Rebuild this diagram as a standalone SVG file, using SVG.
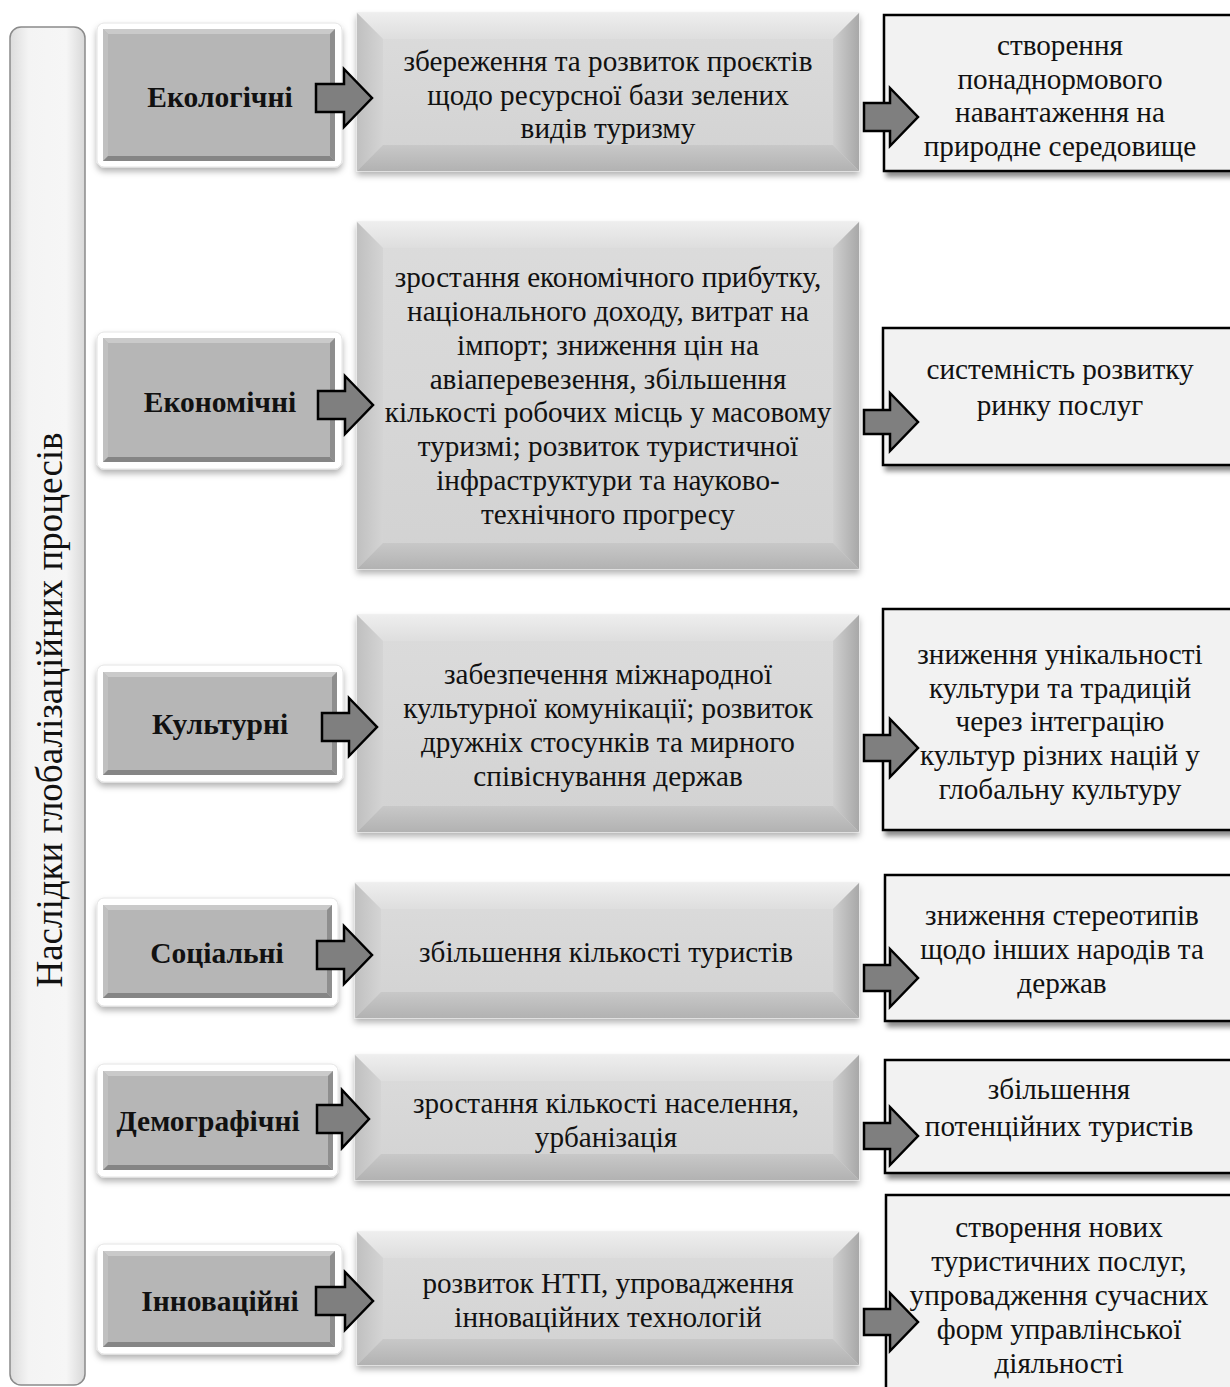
<svg xmlns="http://www.w3.org/2000/svg" width="1230" height="1387" viewBox="0 0 1230 1387">
<defs>
<linearGradient id="gBracket" x1="0" y1="0" x2="1" y2="0">
<stop offset="0" stop-color="#dcdcdc"/><stop offset="0.25" stop-color="#f4f4f4"/><stop offset="0.75" stop-color="#f6f6f6"/><stop offset="1" stop-color="#d8d8d8"/>
</linearGradient>
<linearGradient id="gMid" x1="0" y1="0" x2="0" y2="1">
<stop offset="0" stop-color="#dcdcdc"/><stop offset="1" stop-color="#d2d2d2"/>
</linearGradient>
<linearGradient id="gTop" x1="0" y1="0" x2="0" y2="1">
<stop offset="0" stop-color="#eeeeee"/><stop offset="1" stop-color="#dedede"/>
</linearGradient>
<linearGradient id="gLeft" x1="0" y1="0" x2="1" y2="0">
<stop offset="0" stop-color="#c0c0c0"/><stop offset="1" stop-color="#d4d4d4"/>
</linearGradient>
<linearGradient id="gRight" x1="0" y1="0" x2="1" y2="0">
<stop offset="0" stop-color="#d0d0d0"/><stop offset="1" stop-color="#a8a8a8"/>
</linearGradient>
<linearGradient id="gBottom" x1="0" y1="0" x2="0" y2="1">
<stop offset="0" stop-color="#c8c8c8"/><stop offset="1" stop-color="#b2b2b2"/>
</linearGradient>
<filter id="shSoft" x="-10%" y="-10%" width="120%" height="130%">
<feDropShadow dx="0" dy="4" stdDeviation="3" flood-color="#000" flood-opacity="0.3"/>
</filter>
<filter id="shBox" x="-10%" y="-10%" width="120%" height="130%">
<feDropShadow dx="3" dy="5" stdDeviation="2.5" flood-color="#000" flood-opacity="0.45"/>
</filter>
</defs>
<style>
.frame{fill:#ffffff;stroke:#e4e4e4;stroke-width:1;filter:url(#shSoft)}
.cat{fill:#b6b6b6}
.cbt{fill:#cacaca}
.cbl{fill:#c0c0c0}
.cbr{fill:#8e8e8e}
.cbb{fill:#858585}
.mid{fill:url(#gMid);stroke:#e6e6e6;stroke-width:1;filter:url(#shSoft)}
.bt{fill:url(#gTop)}
.bl{fill:url(#gLeft)}
.br{fill:url(#gRight)}
.bb{fill:url(#gBottom)}
.res{fill:#f2f2f2;stroke:#000;stroke-width:2.5;filter:url(#shBox)}
.arr{fill:#7f7f7f;stroke:#000;stroke-width:2.5;stroke-linejoin:miter}
.tc{font-family:"Liberation Serif","Times New Roman",serif;font-size:29.5px;font-weight:bold;fill:#111;text-anchor:middle}
.tm{font-family:"Liberation Serif","Times New Roman",serif;font-size:29.2px;fill:#111;text-anchor:middle}
.tv{font-family:"Liberation Serif","Times New Roman",serif;font-size:37px;fill:#111;text-anchor:middle}
</style>
<rect width="1230" height="1387" fill="#ffffff"/>

<g id="bracket">
<rect x="10" y="27" width="75" height="1358" rx="11" fill="url(#gBracket)" stroke="#8a8a8a" stroke-width="1.5"/>
<text class="tv" transform="translate(62,710) rotate(-90)">Наслідки глобалізаційних процесів</text>
</g>

<g id="row1-category">
<rect class="frame" x="97" y="23" width="245" height="144" rx="7"/>
<rect class="cat" x="103" y="29" width="232" height="132"/>
<polygon class="cbt" points="103,29 335,29 330,34 108,34"/>
<polygon class="cbl" points="103,29 108,34 108,156 103,161"/>
<polygon class="cbr" points="335,29 335,161 330,156 330,34"/>
<polygon class="cbb" points="103,161 108,156 330,156 335,161"/>
<text class="tc" x="220" y="107">Екологічні</text>
</g>
<g id="row1-effect">
<rect class="mid" x="357" y="13" width="502" height="158"/>
<polygon class="bt" points="357,13 859,13 833,39 383,39"/>
<polygon class="bl" points="357,13 383,39 383,145 357,171"/>
<polygon class="br" points="859,13 859,171 833,145 833,39"/>
<polygon class="bb" points="357,171 383,145 833,145 859,171"/>
<text class="tm" x="608" y="71">збереження та розвиток проєктів</text>
<text class="tm" x="608" y="105">щодо ресурсної бази зелених</text>
<text class="tm" x="608" y="138">видів туризму</text>
</g>
<g id="row1-result">
<rect class="res" x="884" y="15" width="348" height="156"/>
<text class="tm" x="1060" y="55">створення</text>
<text class="tm" x="1060" y="89">понаднормового</text>
<text class="tm" x="1060" y="122">навантаження на</text>
<text class="tm" x="1060" y="156">природне середовище</text>
</g>

<g id="row2-category">
<rect class="frame" x="97" y="332" width="245" height="137" rx="7"/>
<rect class="cat" x="103" y="338" width="232" height="124"/>
<polygon class="cbt" points="103,338 335,338 330,343 108,343"/>
<polygon class="cbl" points="103,338 108,343 108,457 103,462"/>
<polygon class="cbr" points="335,338 335,462 330,457 330,343"/>
<polygon class="cbb" points="103,462 108,457 330,457 335,462"/>
<text class="tc" x="220" y="412">Економічні</text>
</g>
<g id="row2-effect">
<rect class="mid" x="357" y="222" width="502" height="347"/>
<polygon class="bt" points="357,222 859,222 833,248 383,248"/>
<polygon class="bl" points="357,222 383,248 383,543 357,569"/>
<polygon class="br" points="859,222 859,569 833,543 833,248"/>
<polygon class="bb" points="357,569 383,543 833,543 859,569"/>
<text class="tm" x="608" y="287">зростання економічного прибутку,</text>
<text class="tm" x="608" y="321">національного доходу, витрат на</text>
<text class="tm" x="608" y="355">імпорт; зниження цін на</text>
<text class="tm" x="608" y="389">авіаперевезення, збільшення</text>
<text class="tm" x="608" y="422">кількості робочих місць у масовому</text>
<text class="tm" x="608" y="456">туризмі; розвиток туристичної</text>
<text class="tm" x="608" y="490">інфраструктури та науково-</text>
<text class="tm" x="608" y="524">технічного прогресу</text>
</g>
<g id="row2-result">
<rect class="res" x="883" y="328" width="349" height="137"/>
<text class="tm" x="1060" y="379">системність розвитку</text>
<text class="tm" x="1060" y="415">ринку послуг</text>
</g>

<g id="row3-category">
<rect class="frame" x="97" y="665" width="246" height="117" rx="7"/>
<rect class="cat" x="103" y="672" width="234" height="103"/>
<polygon class="cbt" points="103,672 337,672 332,677 108,677"/>
<polygon class="cbl" points="103,672 108,677 108,770 103,775"/>
<polygon class="cbr" points="337,672 337,775 332,770 332,677"/>
<polygon class="cbb" points="103,775 108,770 332,770 337,775"/>
<text class="tc" x="220" y="734">Культурні</text>
</g>
<g id="row3-effect">
<rect class="mid" x="357" y="615" width="502" height="217"/>
<polygon class="bt" points="357,615 859,615 833,641 383,641"/>
<polygon class="bl" points="357,615 383,641 383,806 357,832"/>
<polygon class="br" points="859,615 859,832 833,806 833,641"/>
<polygon class="bb" points="357,832 383,806 833,806 859,832"/>
<text class="tm" x="608" y="684">забезпечення міжнародної</text>
<text class="tm" x="608" y="718">культурної комунікації; розвиток</text>
<text class="tm" x="608" y="752">дружніх стосунків та мирного</text>
<text class="tm" x="608" y="786">співіснування держав</text>
</g>
<g id="row3-result">
<rect class="res" x="883" y="609" width="349" height="221"/>
<text class="tm" x="1060" y="664">зниження унікальності</text>
<text class="tm" x="1060" y="698">культури та традицій</text>
<text class="tm" x="1060" y="731">через інтеграцію</text>
<text class="tm" x="1060" y="765">культур різних націй у</text>
<text class="tm" x="1060" y="799">глобальну культуру</text>
</g>

<g id="row4-category">
<rect class="frame" x="97" y="898" width="241" height="108" rx="7"/>
<rect class="cat" x="103" y="905" width="229" height="93"/>
<polygon class="cbt" points="103,905 332,905 327,910 108,910"/>
<polygon class="cbl" points="103,905 108,910 108,993 103,998"/>
<polygon class="cbr" points="332,905 332,998 327,993 327,910"/>
<polygon class="cbb" points="103,998 108,993 327,993 332,998"/>
<text class="tc" x="217" y="963">Соціальні</text>
</g>
<g id="row4-effect">
<rect class="mid" x="355" y="883" width="504" height="135"/>
<polygon class="bt" points="355,883 859,883 833,909 381,909"/>
<polygon class="bl" points="355,883 381,909 381,992 355,1018"/>
<polygon class="br" points="859,883 859,1018 833,992 833,909"/>
<polygon class="bb" points="355,1018 381,992 833,992 859,1018"/>
<text class="tm" x="606" y="962">збільшення кількості туристів</text>
</g>
<g id="row4-result">
<rect class="res" x="885" y="875" width="347" height="146"/>
<text class="tm" x="1062" y="925">зниження стереотипів</text>
<text class="tm" x="1062" y="959">щодо інших народів та</text>
<text class="tm" x="1062" y="993">держав</text>
</g>

<g id="row5-category">
<rect class="frame" x="97" y="1064" width="241" height="113" rx="7"/>
<rect class="cat" x="103" y="1071" width="230" height="99"/>
<polygon class="cbt" points="103,1071 333,1071 328,1076 108,1076"/>
<polygon class="cbl" points="103,1071 108,1076 108,1165 103,1170"/>
<polygon class="cbr" points="333,1071 333,1170 328,1165 328,1076"/>
<polygon class="cbb" points="103,1170 108,1165 328,1165 333,1170"/>
<text class="tc" x="208" y="1131">Демографічні</text>
</g>
<g id="row5-effect">
<rect class="mid" x="355" y="1055" width="504" height="125"/>
<polygon class="bt" points="355,1055 859,1055 833,1081 381,1081"/>
<polygon class="bl" points="355,1055 381,1081 381,1154 355,1180"/>
<polygon class="br" points="859,1055 859,1180 833,1154 833,1081"/>
<polygon class="bb" points="355,1180 381,1154 833,1154 859,1180"/>
<text class="tm" x="606" y="1113">зростання кількості населення,</text>
<text class="tm" x="606" y="1147">урбанізація</text>
</g>
<g id="row5-result">
<rect class="res" x="885" y="1060" width="347" height="113"/>
<text class="tm" x="1059" y="1099">збільшення</text>
<text class="tm" x="1059" y="1136">потенційних туристів</text>
</g>

<g id="row6-category">
<rect class="frame" x="97" y="1244" width="245" height="110" rx="7"/>
<rect class="cat" x="103" y="1251" width="232" height="96"/>
<polygon class="cbt" points="103,1251 335,1251 330,1256 108,1256"/>
<polygon class="cbl" points="103,1251 108,1256 108,1342 103,1347"/>
<polygon class="cbr" points="335,1251 335,1347 330,1342 330,1256"/>
<polygon class="cbb" points="103,1347 108,1342 330,1342 335,1347"/>
<text class="tc" x="220" y="1311">Інноваційні</text>
</g>
<g id="row6-effect">
<rect class="mid" x="357" y="1232" width="502" height="133"/>
<polygon class="bt" points="357,1232 859,1232 833,1258 383,1258"/>
<polygon class="bl" points="357,1232 383,1258 383,1339 357,1365"/>
<polygon class="br" points="859,1232 859,1365 833,1339 833,1258"/>
<polygon class="bb" points="357,1365 383,1339 833,1339 859,1365"/>
<text class="tm" x="608" y="1293">розвиток НТП, упровадження</text>
<text class="tm" x="608" y="1327">інноваційних технологій</text>
</g>
<g id="row6-result">
<rect class="res" x="886" y="1195" width="346" height="200"/>
<text class="tm" x="1059" y="1237">створення нових</text>
<text class="tm" x="1059" y="1271">туристичних послуг,</text>
<text class="tm" x="1059" y="1305">упровадження сучасних</text>
<text class="tm" x="1059" y="1339">форм управлінської</text>
<text class="tm" x="1059" y="1373">діяльності</text>
</g>

<g id="connectors">
<path class="arr" d="M316,84 L344,84 L344,69 L372,98 L344,127 L344,112 L316,112 Z"/>
<path class="arr" d="M318,391 L345,391 L345,376 L373,405 L345,434 L345,419 L318,419 Z"/>
<path class="arr" d="M322,713 L349,713 L349,698 L377,727 L349,756 L349,741 L322,741 Z"/>
<path class="arr" d="M317,941 L344,941 L344,926 L372,955 L344,984 L344,969 L317,969 Z"/>
<path class="arr" d="M317,1105 L342,1105 L342,1090 L369,1119 L342,1148 L342,1133 L317,1133 Z"/>
<path class="arr" d="M316,1287 L345,1287 L345,1272 L373,1301 L345,1330 L345,1315 L316,1315 Z"/>
<path class="arr" d="M864,103 L890,103 L890,88 L918,117 L890,146 L890,131 L864,131 Z"/>
<path class="arr" d="M864,410 L890,410 L890,393 L918,422 L890,451 L890,434 L864,434 Z"/>
<path class="arr" d="M864,735 L890,735 L890,719 L918,748 L890,777 L890,761 L864,761 Z"/>
<path class="arr" d="M864,965 L890,965 L890,949 L918,978 L890,1007 L890,991 L864,991 Z"/>
<path class="arr" d="M864,1123 L890,1123 L890,1107 L918,1136 L890,1165 L890,1149 L864,1149 Z"/>
<path class="arr" d="M864,1309 L890,1309 L890,1293 L918,1322 L890,1351 L890,1335 L864,1335 Z"/>
</g>
</svg>
